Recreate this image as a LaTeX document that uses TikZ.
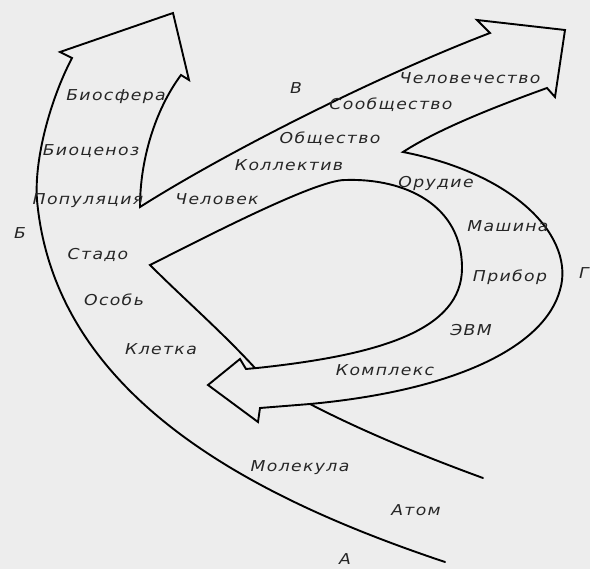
\documentclass[tikz,border=0pt]{standalone}
\usepackage{fontspec}
\newfontfamily\gostfont{DejaVu Sans}[FakeStretch=1.15,LetterSpace=9]
\tikzset{
  band/.style={line width=1.9pt,line join=miter,line cap=round},
  lbl/.style={font=\gostfont\itshape\fontsize{15}{17}\selectfont,inner sep=0pt,text=black!85}
}
\begin{document}
\begin{tikzpicture}[x=1pt,y=-1pt]
\fill[black!7] (0,0) rectangle (590,569);
\useasboundingbox (0,0) rectangle (590,569);

\coordinate (startA) at (445,562);
\coordinate (bendB) at (37,200);
\coordinate (footB) at (72,58);
\coordinate (barbBl) at (60,52);
\coordinate (tipB) at (173,13);
\coordinate (barbBr) at (189,80);
\coordinate (notchB) at (181,75);
\coordinate (forkB) at (140,207);
\coordinate (footV) at (490,33);
\coordinate (barbVl) at (477,20);
\coordinate (tipV) at (565,30);
\coordinate (barbVr) at (555,97);
\coordinate (notchV) at (547,88);
\coordinate (forkV) at (403,152);
\coordinate (bendGo) at (560,290);
\coordinate (joinA) at (310,404);
\coordinate (notchGl) at (260,408);
\coordinate (barbGl) at (258,422);
\coordinate (tipG) at (208,385);
\coordinate (barbGu) at (240,359);
\coordinate (notchGu) at (246,369);
\coordinate (footG) at (257,368);
\coordinate (bendGi) at (462,268);
\coordinate (topGi) at (345,180);
\coordinate (forkG) at (150,265);
\coordinate (endB) at (255,368);
\coordinate (startAi) at (483,478);

\draw[band] (startA) .. controls (260,500) and (55,400) .. (bendB)
  .. controls (34,160) and (50,100) .. (footB)
  -- (barbBl) -- (tipB) -- (barbBr) -- (notchB)
  .. controls (155,110) and (140,160) .. (forkB)
  .. controls (230,150) and (380,75) .. (footV)
  -- (barbVl) -- (tipV) -- (barbVr) -- (notchV)
  .. controls (500,105) and (440,128) .. (forkV)
  .. controls (520,175) and (575,240) .. (bendGo)
  .. controls (545,345) and (460,390) .. (joinA)
  -- (notchGl) -- (barbGl) -- (tipG) -- (barbGu) -- (notchGu) -- (footG)
  .. controls (380,355) and (462,330) .. (bendGi)
  .. controls (462,205) and (405,178) .. (topGi)
  .. controls (315,180) and (200,240) .. (forkG)
  .. controls (185,300) and (220,330) .. (endB);
\draw[band] (startAi) .. controls (420,455) and (360,430) .. (joinA);

\node[lbl] (biosfera) at (116,97) {Биосфера};
\node[lbl] (biocenoz) at (91,151) {Биоценоз};
\node[lbl] (populyaciya) at (88,201) {Популяция};
\node[lbl] (stado) at (98,255) {Стадо};
\node[lbl] (osob) at (114,300) {Особь};
\node[lbl] (kletka) at (161,349) {Клетка};
\node[lbl] (molekula) at (300,468) {Молекула};
\node[lbl] (atom) at (416,510) {Атом};
\node[lbl] (labA) at (345,559) {А};
\node[lbl] (labB) at (20,233) {Б};
\node[lbl] (labV) at (296,88) {В};
\node[lbl] (labG) at (584,273) {Г};
\node[lbl] (chelovek) at (217,199) {Человек};
\node[lbl] (kollektiv) at (289,165) {Коллектив};
\node[lbl] (obshchestvo) at (330,139) {Общество};
\node[lbl] (soobshchestvo) at (391,105) {Сообщество};
\node[lbl] (chelovechestvo) at (470,78) {Человечество};
\node[lbl] (orudie) at (436,183) {Орудие};
\node[lbl] (mashina) at (508,226) {Машина};
\node[lbl] (pribor) at (510,277) {Прибор};
\node[lbl] (evm) at (471,330) {ЭВМ};
\node[lbl] (kompleks) at (385,370) {Комплекс};
\end{tikzpicture}
\end{document}
